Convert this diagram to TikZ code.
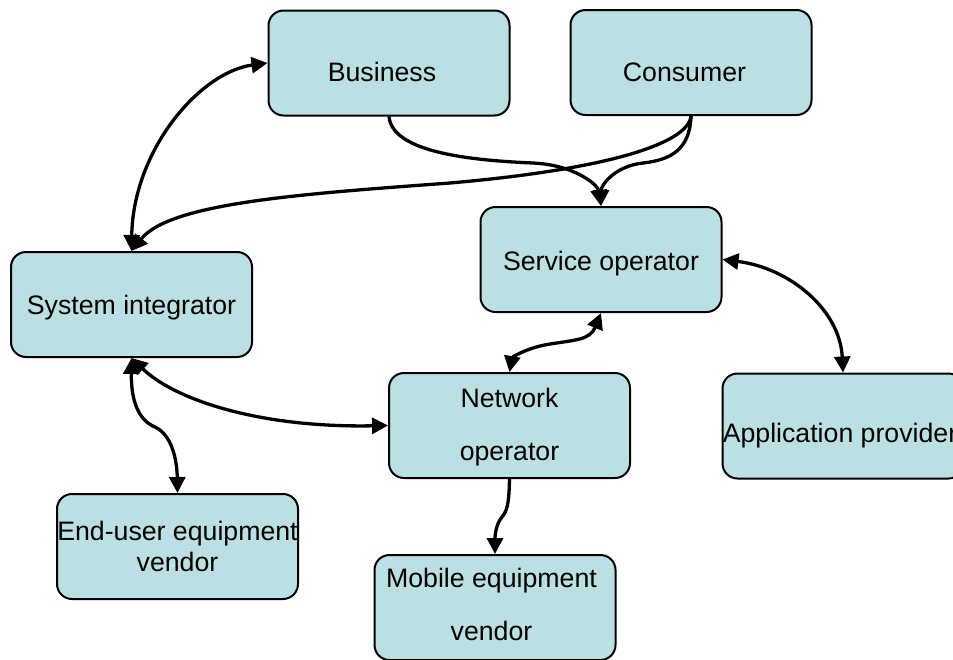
\documentclass[tikz,border=0pt]{standalone}
\usepackage{fontspec}
\setmainfont{Liberation Sans}
\usetikzlibrary{arrows.meta}
\definecolor{boxfill}{RGB}{186,224,227}
\newcommand{\lowered}[2]{\raisebox{-#1}[\height][\depth]{#2}}
\newcommand{\twolines}[3]{\raisebox{-#1}[\height][\depth]{\begin{tabular}{@{}c@{}}#2\\[22pt]#3\end{tabular}}}
\tikzset{
  box/.style={draw, line width=2pt, fill=boxfill, rounded corners=15pt,
    minimum width=241pt, minimum height=105pt, inner sep=0pt, align=center,
    font=\fontsize{26.7pt}{31pt}\selectfont},
  conn/.style={line width=3.3pt},
  tip/.tip={Triangle[length=16pt,width=16pt]}
}
\begin{document}
\begin{tikzpicture}[x=1pt,y=-1pt]
\clip (0,0) rectangle (953,659);
\fill[white] (0,0) rectangle (953,659);
\node[box] (bus)  at (389,63)    {\lowered{9pt}{Business}\hspace*{14pt}};
\node[box] (cons) at (691,62.5)  {\lowered{10pt}{Consumer}\hspace*{13pt}};
\node[box] (serv) at (601,259.5) {\lowered{4pt}{Service operator}};
\node[box] (sys)  at (131.5,304.5) {\lowered{3pt}{System integrator}};
\node[box] (net)  at (509.5,425.5) {\twolines{2.5pt}{Network}{operator}};
\node[box] (app)  at (843,426)   {\lowered{10pt}{Application provider}\hspace*{6pt}};
\node[box] (eu)   at (177.5,546.5) {End-user equipment\\vendor};
\node[box] (mob)  at (495,607.5) {\twolines{0pt}{Mobile equipment}{vendor}\hspace*{7pt}};
% connectors
\draw[conn, tip-tip] (bus.west) .. controls (200,72) and (133,150) .. (sys.north);
\draw[conn, -tip] (cons.south) .. controls (688,145) and (600,170) .. (450,183)
   .. controls (300,194) and (170,203) .. (sys.north);
\draw[conn, -tip] (bus.south) .. controls (392,150) and (460,160) .. (533,163)
   .. controls (575,165) and (598,185) .. (serv.north);
\draw[conn, -tip] (cons.south) .. controls (690,150) and (670,160) .. (643,163)
   .. controls (615,166) and (601,185) .. (serv.north);
\draw[conn, tip-tip] (serv.east) .. controls (790,268) and (840,310) .. (app.north);
\draw[conn, tip-tip] (serv.south) .. controls (590,340) and (575,340) .. (550,344)
   .. controls (525,348) and (512,358) .. (net.north);
\draw[conn, tip-tip] (sys.south) .. controls (175,400) and (260,428) .. (net.west);
\draw[conn, tip-tip] (sys.south) .. controls (131,400) and (138,420) .. (155,427)
   .. controls (172,435) and (177,460) .. (eu.north);
\draw[conn, -tip] (net.south) .. controls (509,500) and (508,510) .. (502,517)
   .. controls (496,524) and (495,535) .. (mob.north);
\end{tikzpicture}
\end{document}
